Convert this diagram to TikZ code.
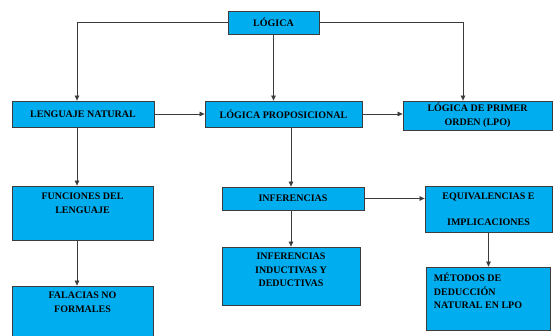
\documentclass[tikz,border=0pt]{standalone}
\usepackage{fontspec}
\setmainfont{Liberation Serif}
\usetikzlibrary{arrows.meta, positioning}
\definecolor{boxblue}{RGB}{0,174,239}
\definecolor{edgegray}{RGB}{60,60,60}

\begin{document}
\begin{tikzpicture}[
  x=1pt, y=-1pt,
  every node/.style={font=\bfseries\fontsize{10}{13.5}\selectfont},
  box/.style={draw=edgegray, line width=0.8pt, fill=boxblue, inner sep=0pt, align=center},
  txt/.style={inner sep=0pt, align=center},
  >={Triangle[length=5pt, width=4.5pt]}, line width=0.7pt
]
\useasboundingbox (0,0) rectangle (554,335);
\clip (0,0) rectangle (554,335);
% columns of the vertical connectors
\coordinate (lcol) at (77,0);
\coordinate (mcol) at (291,0);
\coordinate (rcol) at (463,0);
% top row
\node[box, minimum width=91pt, minimum height=23pt] (logica) at (273.5,22.5) {LÓGICA};
\node[box, minimum width=142pt, minimum height=26pt] (lenguaje) at (83,114) {LENGUAJE NATURAL};
\node[box, minimum width=157pt, minimum height=26pt] (prop) at (283.5,114) {LÓGICA PROPOSICIONAL};
\node[box, minimum width=149pt, minimum height=29pt] (lpo) at (477.5,115.5) {LÓGICA DE PRIMER\\ORDEN (LPO)};
% left column
\node[box, minimum width=141pt, minimum height=54pt] (funciones) at (82.5,213) {};
\node[txt, anchor=north] (funcionestxt) at ([yshift=-7pt]funciones.north) {FUNCIONES DEL\\LENGUAJE};
\node[box, minimum width=141pt, minimum height=56pt] (falacias) at (82.5,314) {};
\node[txt, anchor=north] (falaciastxt) at ([yshift=-6pt]falacias.north) {FALACIAS NO\\FORMALES};
% middle column
\node[box, minimum width=142pt, minimum height=23pt] (inferencias) at (293,198.5) {INFERENCIAS};
\node[box, minimum width=138pt, minimum height=58pt] (inductivas) at (291,276) {};
\node[txt, anchor=north] (inductivastxt) at ([yshift=-6pt]inductivas.north) {INFERENCIAS\\INDUCTIVAS Y\\DEDUCTIVAS};
% right column
\node[box, minimum width=127pt, minimum height=46pt] (equiv) at (488.5,209) {};
\node[txt, anchor=north] (equivtxt) at ([yshift=-7pt]equiv.north) {EQUIVALENCIAS E\\[12.5pt]IMPLICACIONES};
\node[box, minimum width=124pt, minimum height=63pt] (metodos) at (488,298.5) {};
\node[txt, anchor=north west, align=left] (metodostxt) at ([xshift=8pt, yshift=-6pt]metodos.north west) {MÉTODOS DE\\DEDUCCIÓN\\NATURAL EN LPO};
% connectors
\draw[edgegray, ->] (logica.west) -| (lcol |- lenguaje.north);
\draw[edgegray, ->] (logica.east) -| (rcol |- lpo.north);
\draw[edgegray, ->] (logica.south) -- (logica.south |- prop.north);
\draw[edgegray, ->] (lenguaje.east) -- (lenguaje.east -| prop.west);
\draw[edgegray, ->] (prop.east) -- (prop.east -| lpo.west);
\draw[edgegray, ->] (lcol |- lenguaje.south) -- (lcol |- funciones.north);
\draw[edgegray, ->] (lcol |- funciones.south) -- (lcol |- falacias.north);
\draw[edgegray, ->] (mcol |- prop.south) -- (mcol |- inferencias.north);
\draw[edgegray, ->] (mcol |- inferencias.south) -- (mcol |- inductivas.north);
\draw[edgegray, ->] (inferencias.east) -- (inferencias.east -| equiv.west);
\draw[edgegray, ->] (equiv.south) -- (equiv.south |- metodos.north);
\end{tikzpicture}
\end{document}
